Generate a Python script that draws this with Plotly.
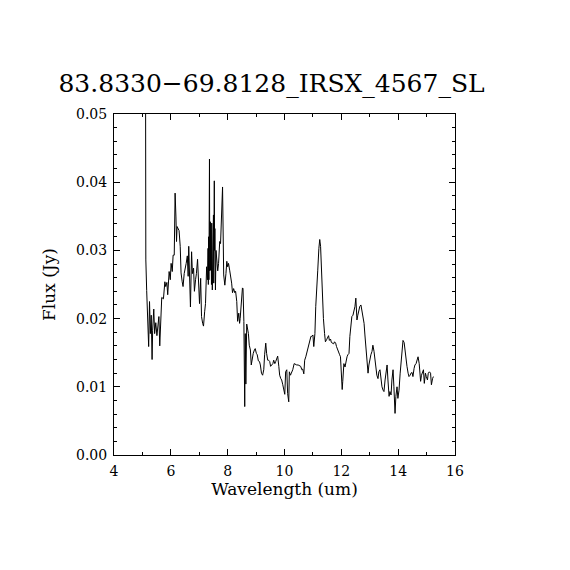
import plotly.graph_objects as go

# spectrum
wavelength = [
    5.11, 5.12, 5.15, 5.19, 5.22, 5.25, 5.28, 5.31, 5.34, 5.36,
    5.40, 5.43, 5.47, 5.51, 5.54, 5.58, 5.61, 5.65, 5.68, 5.74,
    5.79, 5.82, 5.86, 5.89, 5.94, 5.98, 6.01, 6.05, 6.08, 6.12,
    6.15, 6.18, 6.20, 6.22, 6.26, 6.29, 6.33, 6.36, 6.40, 6.43,
    6.47, 6.50, 6.54, 6.58, 6.61, 6.63, 6.66, 6.69, 6.73, 6.76,
    6.80, 6.83, 6.87, 6.90, 6.94, 6.98, 7.01, 7.05, 7.08, 7.12,
    7.15, 7.19, 7.22, 7.26, 7.29, 7.31, 7.32, 7.33, 7.34, 7.36,
    7.37, 7.39, 7.40, 7.41, 7.43, 7.44, 7.46, 7.47, 7.48, 7.50,
    7.51, 7.53, 7.54, 7.55, 7.57, 7.59, 7.61, 7.63, 7.65, 7.68,
    7.72, 7.75, 7.79, 7.82, 7.86, 7.88, 7.90, 7.94, 7.97, 8.00,
    8.03, 8.07, 8.10, 8.14, 8.17, 8.21, 8.25, 8.28, 8.32, 8.35,
    8.39, 8.42, 8.44, 8.48, 8.52, 8.54, 8.57, 8.60, 8.62, 8.64,
    8.67, 8.69, 8.73, 8.76, 8.80, 8.83, 8.87, 8.90, 8.94, 8.97,
    9.01, 9.04, 9.08, 9.12, 9.15, 9.19, 9.23, 9.27, 9.30, 9.34,
    9.37, 9.41, 9.44, 9.48, 9.51, 9.55, 9.59, 9.62, 9.66, 9.69,
    9.73, 9.76, 9.80, 9.83, 9.87, 9.90, 9.94, 9.97, 10.01, 10.04,
    10.08, 10.11, 10.15, 10.17, 10.21, 10.24, 10.29, 10.34, 10.38, 10.43,
    10.48, 10.53, 10.57, 10.61, 10.64, 10.68, 10.71, 10.75, 10.78, 10.82,
    10.86, 10.89, 10.93, 10.96, 11.00, 11.03, 11.07, 11.10, 11.14, 11.17,
    11.21, 11.24, 11.27, 11.30, 11.34, 11.37, 11.41, 11.44, 11.48, 11.51,
    11.55, 11.58, 11.62, 11.65, 11.69, 11.73, 11.76, 11.80, 11.83, 11.87,
    11.90, 11.94, 11.97, 12.01, 12.03, 12.05, 12.09, 12.13, 12.16, 12.20,
    12.23, 12.27, 12.30, 12.34, 12.37, 12.41, 12.44, 12.48, 12.51, 12.55,
    12.58, 12.62, 12.65, 12.69, 12.72, 12.76, 12.80, 12.83, 12.87, 12.90,
    12.94, 12.97, 13.01, 13.04, 13.08, 13.11, 13.15, 13.18, 13.22, 13.25,
    13.29, 13.32, 13.36, 13.39, 13.43, 13.47, 13.50, 13.54, 13.57, 13.61,
    13.64, 13.68, 13.71, 13.75, 13.78, 13.82, 13.85, 13.89, 13.92, 13.96,
    13.99, 14.03, 14.07, 14.10, 14.14, 14.17, 14.21, 14.24, 14.28, 14.31,
    14.35, 14.38, 14.42, 14.45, 14.49, 14.52, 14.56, 14.59, 14.63, 14.66,
    14.70, 14.74, 14.76, 14.79, 14.82, 14.85, 14.89, 14.92, 14.96, 14.99,
    15.03, 15.06, 15.10, 15.14, 15.17, 15.21, 15.24, 15.28,
]
flux = [
    0.0580, 0.0286, 0.0241, 0.0192, 0.0159, 0.0225, 0.0178, 0.0205, 0.0140, 0.0183,
    0.0214, 0.0178, 0.0194, 0.0175, 0.0192, 0.0203, 0.0160, 0.0220, 0.0231, 0.0229,
    0.0254, 0.0247, 0.0253, 0.0235, 0.0269, 0.0257, 0.0281, 0.0269, 0.0293, 0.0293,
    0.0384, 0.0349, 0.0313, 0.0335, 0.0332, 0.0329, 0.0306, 0.0267, 0.0254, 0.0247,
    0.0266, 0.0276, 0.0281, 0.0292, 0.0262, 0.0306, 0.0228, 0.0217, 0.0298, 0.0266,
    0.0274, 0.0240, 0.0257, 0.0266, 0.0287, 0.0247, 0.0222, 0.0259, 0.0203, 0.0193,
    0.0189, 0.0210, 0.0222, 0.0276, 0.0257, 0.0303, 0.0250, 0.0320, 0.0257, 0.0434,
    0.0270, 0.0342, 0.0271, 0.0330, 0.0250, 0.0340, 0.0242, 0.0306, 0.0260, 0.0352,
    0.0252, 0.0402, 0.0300, 0.0332, 0.0242, 0.0300, 0.0291, 0.0276, 0.0270, 0.0281,
    0.0313, 0.0310, 0.0367, 0.0393, 0.0264, 0.0252, 0.0249, 0.0266, 0.0284, 0.0276,
    0.0281, 0.0271, 0.0264, 0.0252, 0.0238, 0.0244, 0.0238, 0.0240, 0.0225, 0.0196,
    0.0208, 0.0193, 0.0200, 0.0218, 0.0245, 0.0244, 0.0196, 0.0071, 0.0178, 0.0104,
    0.0192, 0.0188, 0.0178, 0.0161, 0.0154, 0.0132, 0.0144, 0.0149, 0.0154, 0.0156,
    0.0149, 0.0147, 0.0138, 0.0137, 0.0132, 0.0120, 0.0117, 0.0125, 0.0147, 0.0164,
    0.0149, 0.0139, 0.0139, 0.0137, 0.0130, 0.0132, 0.0134, 0.0139, 0.0134, 0.0137,
    0.0142, 0.0145, 0.0130, 0.0117, 0.0112, 0.0110, 0.0103, 0.0095, 0.0089, 0.0122,
    0.0125, 0.0090, 0.0078, 0.0122, 0.0117, 0.0120, 0.0125, 0.0134, 0.0133, 0.0132,
    0.0132, 0.0131, 0.0130, 0.0125, 0.0126, 0.0119, 0.0139, 0.0144, 0.0149, 0.0154,
    0.0164, 0.0169, 0.0174, 0.0174, 0.0176, 0.0159, 0.0178, 0.0218, 0.0242, 0.0271,
    0.0303, 0.0316, 0.0306, 0.0271, 0.0237, 0.0200, 0.0178, 0.0166, 0.0169, 0.0173,
    0.0175, 0.0168, 0.0170, 0.0165, 0.0164, 0.0163, 0.0166, 0.0164, 0.0159, 0.0154,
    0.0149, 0.0147, 0.0144, 0.0120, 0.0096, 0.0108, 0.0134, 0.0129, 0.0139, 0.0144,
    0.0147, 0.0149, 0.0174, 0.0191, 0.0203, 0.0205, 0.0210, 0.0218, 0.0230, 0.0198,
    0.0205, 0.0213, 0.0218, 0.0220, 0.0214, 0.0205, 0.0193, 0.0176, 0.0159, 0.0139,
    0.0120, 0.0132, 0.0144, 0.0147, 0.0152, 0.0161, 0.0152, 0.0139, 0.0130, 0.0117,
    0.0112, 0.0122, 0.0125, 0.0108, 0.0100, 0.0095, 0.0093, 0.0110, 0.0125, 0.0132,
    0.0110, 0.0086, 0.0093, 0.0088, 0.0110, 0.0125, 0.0100, 0.0061, 0.0086, 0.0100,
    0.0083, 0.0095, 0.0120, 0.0134, 0.0164, 0.0168, 0.0165, 0.0152, 0.0139, 0.0130,
    0.0120, 0.0115, 0.0117, 0.0120, 0.0121, 0.0115, 0.0127, 0.0132, 0.0134, 0.0140,
    0.0144, 0.0134, 0.0125, 0.0108, 0.0117, 0.0122, 0.0125, 0.0105, 0.0120, 0.0115,
    0.0110, 0.0120, 0.0122, 0.0120, 0.0103, 0.0112, 0.0115,
]

x_ticks = [4, 6, 8, 10, 12, 14, 16]
y_ticks = [0.00, 0.01, 0.02, 0.03, 0.04, 0.05]

FONT = "DejaVu Serif"

fig = go.Figure()

fig.add_trace(go.Scatter(
    x=wavelength,
    y=flux,
    mode='lines',
    line=dict(color='black', width=1),
    hoverinfo='none'
))

axis_common = dict(
    showgrid=False,
    zeroline=False,
    showline=True,
    linecolor='black',
    linewidth=1,
    mirror='allticks',
    ticks='inside',
    ticklen=6,
    tickwidth=1,
    tickcolor='black',
    tickfont=dict(family=FONT, size=14, color='black'),
)

# the page sits 8px in from the window corner, so the figure is 8px smaller
fig.update_layout(
    width=562,
    height=562,
    margin=dict(l=106, r=115, t=106, b=115, autoexpand=False),
    paper_bgcolor='white',
    plot_bgcolor='white',
    showlegend=False,
    title=dict(
        text='83.8330\u221269.8128_IRSX_4567_SL',
        font=dict(family=FONT, size=25, color='black'),
        x=0.469, xanchor='center',
        y=1 - 75 / 562, yanchor='middle',
    ),
    xaxis=dict(
        axis_common,
        range=[4, 16],
        tickvals=x_ticks,
        ticktext=[str(t) for t in x_ticks],
        ticklabelstandoff=3,
        minor=dict(dtick=1, ticks='inside', ticklen=3, tickcolor='black'),
        title=dict(text='Wavelength (um)', font=dict(family=FONT, size=17, color='black'), standoff=5),
    ),
    yaxis=dict(
        axis_common,
        range=[0, 0.05],
        tickvals=y_ticks,
        ticktext=['%.2f' % t for t in y_ticks],
        ticklabelstandoff=3,
        minor=dict(dtick=0.002, ticks='inside', ticklen=3, tickcolor='black'),
        title=dict(text='Flux (Jy)', font=dict(family=FONT, size=17, color='black'), standoff=16),
    ),
)

fig.write_html("out.html")
